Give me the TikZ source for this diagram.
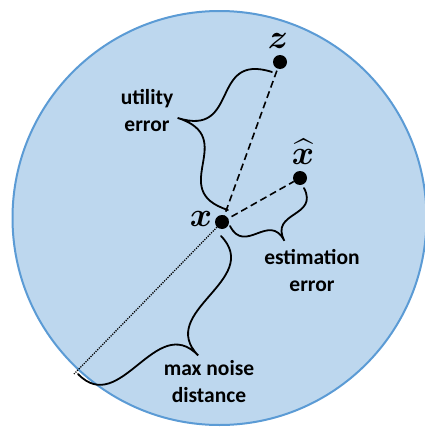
\documentclass[tikz,border=0pt]{standalone}
\usepackage{fontspec}
\setmainfont{Carlito}
\usepackage{amsmath,bm}
\usetikzlibrary{calc}
\definecolor{discfill}{RGB}{189,215,238}
\definecolor{discedge}{RGB}{91,155,213}
\newcommand{\curlybrace}[5]{%
  % #1 A, #2 B, #3 h (amplitude), #4 k, #5 h-k ; bulge to the left of A->B
  \coordinate (bm) at ($(#1)!0.5!(#2)$);
  \coordinate (bt) at ($(bm)!#3!90:(#2)$);
  \coordinate (bc1) at ($(#1)!#4!90:(#2)$);
  \coordinate (bc2) at ($(bm)!#5!90:(#2)$);
  \coordinate (bc4) at ($(#2)!#4!-90:(#1)$);
  \draw[bracestyle] (#1) .. controls (bc1) and (bc2) .. (bt)
                         .. controls (bc2) and (bc4) .. (#2);
}
\newcommand{\bigmath}[1]{\scalebox{1.36}{$#1$}}
\tikzset{
  dot/.style={circle, fill=black, inner sep=0pt, minimum size=14pt},
  dashline/.style={line width=1.6pt, dash pattern=on 7pt off 4pt},
  dotline/.style={line width=1.3pt, dash pattern=on 1.2pt off 1.2pt},
  bracestyle/.style={line width=1.8pt, line cap=round},
  lbl/.style={font=\fontsize{21.5}{27}\selectfont\bfseries, align=center, inner sep=0pt},
  mathlbl/.style={font=\fontsize{24.88}{28}\selectfont, inner sep=0pt}
}
\begin{document}
\begin{tikzpicture}[x=1pt,y=-1pt]
\useasboundingbox (0,0) rectangle (425,431);
\fill[white] (0,0) rectangle (425,431);
\begin{scope}
\clip (0,0) rectangle (425,431);
\draw[fill=discfill, draw=discedge, line width=2pt] (219.5,218) circle (207);
\end{scope}

\node[dot] (z) at (280,62) {};
\node[dot] (xh) at (300,178) {};
\node[dot] (x) at (222,222) {};
\coordinate (edge) at (74,374);

\node[mathlbl] (zl) at (278,41) {\bigmath{\bm{z}}};
\node[mathlbl] (xhl) at (303,152) {\bigmath{\widehat{\bm{x}}}};
\node[mathlbl] (xl) at (201,219) {\bigmath{\bm{x}}};

\draw[dashline] (x.center) -- (z);
\draw[dashline] (x.center) -- (xh);
\draw[dotline] (x.center) -- (edge);

% braces
\coordinate (u1) at (228,210);
\coordinate (u2) at (272,72);
\curlybrace{u1}{u2}{76pt}{66pt}{10pt}
\coordinate (e1) at (304,188);
\coordinate (e2) at (230,226);
\curlybrace{e1}{e2}{38pt}{33pt}{5pt}
\coordinate (n1) at (221,236);
\coordinate (n2) at (78,374);
\curlybrace{n1}{n2}{70pt}{61pt}{9pt}

\node[lbl] (ut) at (147,111) {utility\\error};
\node[lbl] (es) at (312,271) {estimation\\error};
\node[lbl] (mn) at (209,382) {max noise\\distance};
\end{tikzpicture}
\end{document}
